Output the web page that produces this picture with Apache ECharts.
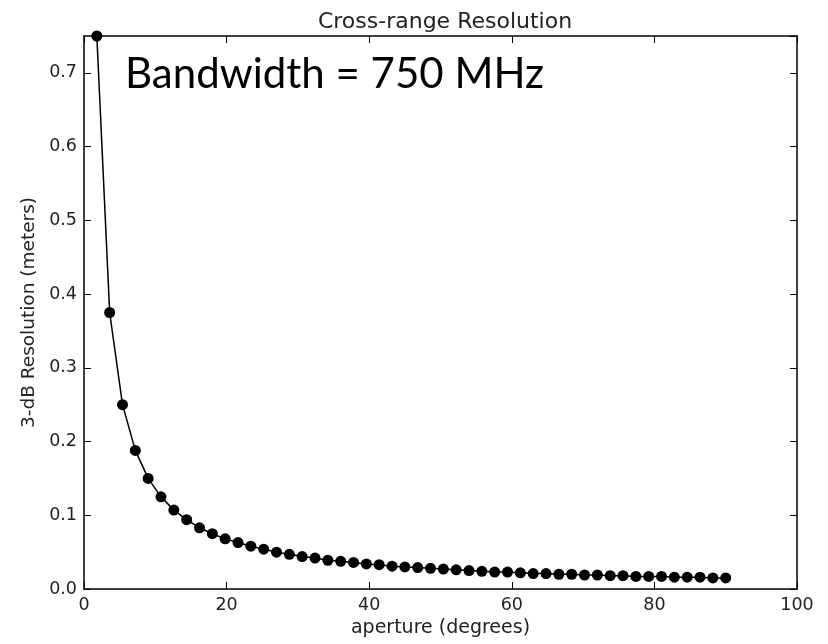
<!DOCTYPE html>
<html>
<head>
<meta charset="utf-8">
<script src="https://cdn.jsdelivr.net/npm/echarts@6/dist/echarts.min.js"></script>
<style>
html, body { margin: 0; padding: 0; background: #fff; }
#main { width: 828px; height: 644px; }
</style>
</head>
<body>
<div id="main"></div>
<script>
// aperture (degrees) sampled every 1.8
var apertures = [
	1.8, 3.6, 5.4, 7.2, 9.0, 10.8, 12.6, 14.4, 16.2, 18.0,
	19.8, 21.6, 23.4, 25.2, 27.0, 28.8, 30.6, 32.4, 34.2, 36.0,
	37.8, 39.6, 41.4, 43.2, 45.0, 46.8, 48.6, 50.4, 52.2, 54.0,
	55.8, 57.6, 59.4, 61.2, 63.0, 64.8, 66.6, 68.4, 70.2, 72.0,
	73.8, 75.6, 77.4, 79.2, 81.0, 82.8, 84.6, 86.4, 88.2, 90.0
];
// 3-dB resolution (meters)
var resolution = [
	0.750, 0.375, 0.250, 0.188, 0.150, 0.125, 0.107, 0.094, 0.083, 0.075,
	0.068, 0.063, 0.058, 0.054, 0.050, 0.047, 0.044, 0.042, 0.039, 0.0375,
	0.036, 0.034, 0.033, 0.031, 0.030, 0.029, 0.028, 0.027, 0.026, 0.025,
	0.024, 0.023, 0.023, 0.022, 0.021, 0.021, 0.020, 0.020, 0.019, 0.019,
	0.018, 0.018, 0.017, 0.017, 0.017, 0.016, 0.016, 0.016, 0.015, 0.015
];
var chartTitle = "Cross-range Resolution";
var noteText = "Bandwidth = 750 MHz";

var chart = echarts.init(document.getElementById("main"));
var pts = [];
for(var i = 0; i < apertures.length; i++) {
	pts.push([apertures[i], resolution[i]]);
}
var font = "DejaVu Sans";
var fs = 17.5;
var frame = { show: true, onZero: false, lineStyle: { color: "#000", width: 1.5 } };
var ticks = { show: true, inside: true, length: 7, lineStyle: { color: "#000", width: 1 } };

var option = {
	animation: false,
	backgroundColor: "#fff",
	title: {
		text: chartTitle,
		left: 440,
		textAlign: "center",
		top: 6,
		textStyle: { fontFamily: font, fontWeight: "normal", fontSize: 22, color: "#222" }
	},
	grid: { left: 84, top: 36, right: 31, bottom: 55, outerBoundsMode: "none", containLabel: false },
	xAxis: [{
		type: "value", min: 0, max: 100, interval: 20,
		name: "aperture (degrees)", nameLocation: "middle", nameGap: 30,
		nameTextStyle: { fontFamily: font, fontSize: 19, color: "#222" },
		axisLine: frame, axisTick: ticks,
		axisLabel: { fontFamily: font, fontSize: fs, color: "#222", margin: 7 },
		splitLine: { show: false }
	}, {
		type: "value", min: 0, max: 100, interval: 20, position: "top",
		axisLine: frame, axisTick: ticks, axisLabel: { show: false }, splitLine: { show: false }
	}],
	yAxis: [{
		type: "value", min: 0, max: 0.75, interval: 0.1,
		name: "3-dB Resolution (meters)", nameLocation: "middle", nameGap: 45,
		nameTextStyle: { fontFamily: font, fontSize: 18.5, color: "#222" },
		axisLine: frame, axisTick: ticks,
		axisLabel: {
			fontFamily: font, fontSize: fs, color: "#222", margin: 7,
			showMaxLabel: false,
			formatter: function(v) { return v.toFixed(1); }
		},
		splitLine: { show: false }
	}, {
		type: "value", min: 0, max: 0.75, interval: 0.1, position: "right",
		axisLine: frame, axisTick: ticks, axisLabel: { show: false }, splitLine: { show: false }
	}],
	graphic: [{
		type: "text", left: 125, top: 53,
		style: { text: noteText, fontFamily: "Lato", fontSize: 42, fill: "#000" }
	}],
	series: [{
		type: "line",
		data: pts,
		symbol: "circle",
		symbolSize: 11,
		clip: false,
		lineStyle: { color: "#000", width: 1.5 },
		itemStyle: { color: "#000" }
	}]
};
chart.setOption(option);
</script>
</body>
</html>
